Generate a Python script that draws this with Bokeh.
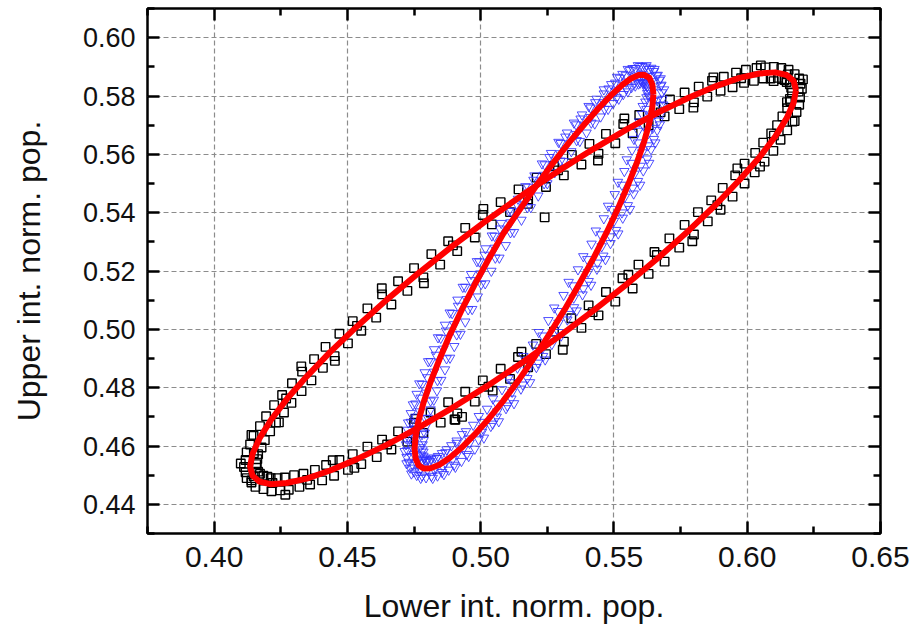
from bokeh.plotting import figure
from bokeh.models import FixedTicker, LinearAxis, NumeralTickFormatter, Range1d
from bokeh.embed import file_html
from bokeh.resources import INLINE

# ---------------- data ----------------
x_major = [0.40, 0.45, 0.50, 0.55, 0.60, 0.65]
x_minor = [0.375, 0.425, 0.475, 0.525, 0.575, 0.625]
y_major = [0.44, 0.46, 0.48, 0.50, 0.52, 0.54, 0.56, 0.58, 0.60]
y_minor = [0.43, 0.45, 0.47, 0.49, 0.51, 0.53, 0.55, 0.57, 0.59, 0.61]

x_title = "Lower int. norm. pop."
y_title = "Upper int. norm. pop."

# black open squares (first data set)
black_pts = [
    (0.6205, 0.5825), (0.6168, 0.5812), (0.6198, 0.5795), (0.6160, 0.5790),
    (0.6195, 0.5770), (0.6162, 0.5782), (0.6185, 0.5745), (0.6150, 0.5758),
    (0.6170, 0.5712), (0.6132, 0.5730), (0.6150, 0.5682), (0.6112, 0.5700),
    (0.6125, 0.5650), (0.6090, 0.5672), (0.6098, 0.5612), (0.6060, 0.5640),
    (0.6065, 0.5575), (0.6030, 0.5605), (0.6028, 0.5538), (0.5990, 0.5568),
    (0.5990, 0.5500), (0.5955, 0.5528), (0.5945, 0.5455), (0.5908, 0.5485),
    (0.5900, 0.5410), (0.5865, 0.5442), (0.5852, 0.5370), (0.5815, 0.5402),
    (0.5800, 0.5325), (0.5765, 0.5358), (0.5745, 0.5280), (0.5708, 0.5312),
    (0.5690, 0.5232), (0.5652, 0.5265), (0.5630, 0.5190), (0.5592, 0.5222),
    (0.5570, 0.5140), (0.5532, 0.5175), (0.5505, 0.5095), (0.5470, 0.5128),
    (0.5442, 0.5048), (0.5405, 0.5082), (0.5378, 0.5005), (0.5340, 0.5038),
    (0.5312, 0.4958), (0.5275, 0.4992), (0.5245, 0.4915), (0.5208, 0.4950),
    (0.5178, 0.4870), (0.5140, 0.4905), (0.5110, 0.4830), (0.5075, 0.4865),
    (0.5045, 0.4790), (0.5008, 0.4825), (0.4978, 0.4752), (0.4942, 0.4786),
    (0.4912, 0.4712), (0.4878, 0.4750), (0.4850, 0.4680), (0.4812, 0.4715),
    (0.4930, 0.4700), (0.4905, 0.4690),
    (0.4785, 0.4645), (0.4750, 0.4680), (0.4725, 0.4615), (0.4690, 0.4650),
    (0.4665, 0.4588), (0.4630, 0.4622), (0.4610, 0.4562), (0.4575, 0.4598),
    (0.4552, 0.4538), (0.4520, 0.4572), (0.4502, 0.4518), (0.4470, 0.4552),
    (0.4450, 0.4498), (0.4420, 0.4535), (0.4405, 0.4482), (0.4378, 0.4518),
    (0.4360, 0.4468), (0.4335, 0.4505), (0.4320, 0.4460), (0.4300, 0.4500),
    (0.4280, 0.4450), (0.4265, 0.4492), (0.4248, 0.4448), (0.4238, 0.4490),
    (0.4215, 0.4445), (0.4212, 0.4490), (0.4185, 0.4452), (0.4200, 0.4495),
    (0.4155, 0.4460), (0.4185, 0.4498), (0.4140, 0.4475), (0.4172, 0.4505),
    (0.4122, 0.4490), (0.4165, 0.4512), (0.4118, 0.4510), (0.4160, 0.4525),
    (0.4112, 0.4528), (0.4158, 0.4538), (0.4118, 0.4552), (0.4162, 0.4555),
    (0.4122, 0.4578), (0.4165, 0.4572), (0.4135, 0.4605), (0.4178, 0.4595),
    (0.4148, 0.4635), (0.4190, 0.4620), (0.4172, 0.4668), (0.4210, 0.4650),
    (0.4195, 0.4702), (0.4232, 0.4680), (0.4225, 0.4740), (0.4262, 0.4715),
    (0.4255, 0.4775), (0.4290, 0.4748), (0.4292, 0.4815), (0.4328, 0.4788),
    (0.4330, 0.4855), (0.4365, 0.4825), (0.4375, 0.4898), (0.4408, 0.4868),
    (0.4418, 0.4940), (0.4452, 0.4908), (0.4470, 0.4985), (0.4502, 0.4952),
    (0.4520, 0.5028), (0.4552, 0.4995), (0.4575, 0.5072), (0.4608, 0.5040),
    (0.4630, 0.5120), (0.4665, 0.5085), (0.4690, 0.5165), (0.4725, 0.5132),
    (0.4750, 0.5210), (0.4785, 0.5178), (0.4815, 0.5258), (0.4848, 0.5222),
    (0.4878, 0.5302), (0.4912, 0.5268), (0.4942, 0.5348), (0.4978, 0.5315),
    (0.5008, 0.5392), (0.5042, 0.5360), (0.5075, 0.5436), (0.5110, 0.5402),
    (0.5142, 0.5480), (0.5178, 0.5445), (0.5210, 0.5520), (0.5245, 0.5488),
    (0.5240, 0.5384),
    (0.5275, 0.5560), (0.5312, 0.5528), (0.5342, 0.5598), (0.5378, 0.5565),
    (0.5408, 0.5636), (0.5442, 0.5602), (0.5470, 0.5670), (0.5505, 0.5638),
    (0.5535, 0.5704), (0.5570, 0.5672), (0.5595, 0.5735), (0.5630, 0.5700),
    (0.5655, 0.5762), (0.5690, 0.5730), (0.5710, 0.5788), (0.5745, 0.5755),
    (0.5765, 0.5812), (0.5800, 0.5778), (0.5818, 0.5832), (0.5850, 0.5798),
    (0.5868, 0.5852), (0.5900, 0.5818), (0.5912, 0.5866), (0.5945, 0.5830),
    (0.5958, 0.5880), (0.5988, 0.5845), (0.5995, 0.5890), (0.6025, 0.5852),
    (0.6035, 0.5896), (0.6060, 0.5860), (0.6068, 0.5898), (0.6088, 0.5860),
    (0.6100, 0.5900), (0.6115, 0.5862), (0.6128, 0.5896), (0.6130, 0.5858),
    (0.6155, 0.5890), (0.6140, 0.5855), (0.6178, 0.5875), (0.6148, 0.5848),
    (0.6195, 0.5860), (0.6160, 0.5840), (0.6200, 0.5842), (0.6165, 0.5828),
    (0.6193, 0.5815), (0.6149, 0.5779), (0.6178, 0.5714), (0.6100, 0.5664),
    (0.6048, 0.5558), (0.5963, 0.5552), (0.5888, 0.5426), (0.5794, 0.5302),
    (0.5661, 0.5255), (0.5554, 0.5187), (0.5420, 0.5059), (0.5308, 0.4930),
    (0.5153, 0.4923), (0.5029, 0.4803), (0.4902, 0.4691), (0.4755, 0.4693),
    (0.4649, 0.4605), (0.4526, 0.4525), (0.4445, 0.4551), (0.4349, 0.4484),
    (0.4267, 0.4433), (0.4219, 0.4473), (0.4140, 0.4482), (0.4148, 0.4496),
    (0.4100, 0.4540), (0.4149, 0.4575), (0.4140, 0.4638), (0.4243, 0.4681),
    (0.4270, 0.4763), (0.4327, 0.4873), (0.4453, 0.4892), (0.4536, 0.5012),
    (0.4629, 0.5141), (0.4787, 0.5158), (0.4896, 0.5288), (0.5010, 0.5413),
    (0.5177, 0.5430), (0.5290, 0.5545), (0.5440, 0.5579), (0.5539, 0.5723),
    (0.5675, 0.5744), (0.5798, 0.5760), (0.5873, 0.5864), (0.5977, 0.5861),
    (0.6051, 0.5905), (0.6099, 0.5851), (0.6152, 0.5874), (0.6209, 0.5857),
]

# blue open down-triangles (second data set)
blue_pts = [
    (0.5680, 0.5812), (0.5630, 0.5800), (0.5662, 0.5785),
    (0.5676, 0.5768), (0.5622, 0.5755), (0.5655, 0.5740),
    (0.5668, 0.5715), (0.5610, 0.5700), (0.5645, 0.5690),
    (0.5650, 0.5652), (0.5590, 0.5640), (0.5628, 0.5630),
    (0.5625, 0.5585), (0.5565, 0.5570), (0.5600, 0.5560),
    (0.5590, 0.5508), (0.5530, 0.5495), (0.5570, 0.5485),
    (0.5552, 0.5425), (0.5492, 0.5412), (0.5530, 0.5400),
    (0.5508, 0.5340), (0.5450, 0.5325), (0.5488, 0.5318),
    (0.5460, 0.5252), (0.5400, 0.5240), (0.5438, 0.5228),
    (0.5405, 0.5165), (0.5345, 0.5150), (0.5385, 0.5140),
    (0.5350, 0.5075), (0.5290, 0.5062), (0.5330, 0.5052),
    (0.5292, 0.4990), (0.5232, 0.4978), (0.5272, 0.4968),
    (0.5234, 0.4908), (0.5175, 0.4895), (0.5215, 0.4885),
    (0.5175, 0.4832), (0.5118, 0.4818), (0.5158, 0.4810),
    (0.5115, 0.4762), (0.5060, 0.4745), (0.5100, 0.4738),
    (0.5060, 0.4700), (0.5005, 0.4682), (0.5045, 0.4676),
    (0.5005, 0.4648), (0.4955, 0.4625), (0.4992, 0.4622),
    (0.4948, 0.4572), (0.4910, 0.4610), (0.4935, 0.4590),
    (0.4900, 0.4535), (0.4868, 0.4578), (0.4895, 0.4555),
    (0.4855, 0.4510), (0.4835, 0.4558), (0.4858, 0.4530),
    (0.4815, 0.4497), (0.4808, 0.4548), (0.4825, 0.4520),
    (0.4780, 0.4498), (0.4795, 0.4545), (0.4770, 0.4515),
    (0.4750, 0.4512), (0.4782, 0.4552), (0.4745, 0.4535),
    (0.4730, 0.4545), (0.4775, 0.4570), (0.4740, 0.4565),
    (0.4725, 0.4585), (0.4772, 0.4595), (0.4740, 0.4600),
    (0.4728, 0.4630), (0.4780, 0.4640), (0.4745, 0.4645),
    (0.4738, 0.4682), (0.4792, 0.4695), (0.4755, 0.4700),
    (0.4755, 0.4745), (0.4812, 0.4755), (0.4775, 0.4765),
    (0.4780, 0.4812), (0.4838, 0.4825), (0.4800, 0.4835),
    (0.4812, 0.4890), (0.4872, 0.4900), (0.4832, 0.4912),
    (0.4850, 0.4970), (0.4910, 0.4982), (0.4870, 0.4995),
    (0.4893, 0.5055), (0.4953, 0.5068), (0.4915, 0.5080),
    (0.4942, 0.5145), (0.5002, 0.5155), (0.4962, 0.5168),
    (0.4995, 0.5232), (0.5055, 0.5245), (0.5015, 0.5255),
    (0.5052, 0.5320), (0.5112, 0.5332), (0.5072, 0.5345),
    (0.5115, 0.5405), (0.5175, 0.5418), (0.5135, 0.5430),
    (0.5178, 0.5488), (0.5238, 0.5500), (0.5198, 0.5512),
    (0.5240, 0.5565), (0.5300, 0.5578), (0.5258, 0.5590),
    (0.5300, 0.5638), (0.5360, 0.5648), (0.5318, 0.5660),
    (0.5358, 0.5702), (0.5415, 0.5708), (0.5375, 0.5722),
    (0.5412, 0.5760), (0.5465, 0.5755), (0.5430, 0.5778),
    (0.5462, 0.5808), (0.5510, 0.5795), (0.5480, 0.5825),
    (0.5505, 0.5845), (0.5548, 0.5825), (0.5522, 0.5862),
    (0.5545, 0.5872), (0.5578, 0.5845), (0.5560, 0.5888),
    (0.5580, 0.5895), (0.5600, 0.5855), (0.5598, 0.5902),
    (0.5618, 0.5900), (0.5615, 0.5855), (0.5632, 0.5892),
    (0.5650, 0.5885), (0.5625, 0.5848), (0.5660, 0.5870),
    (0.5670, 0.5855), (0.5630, 0.5828), (0.5675, 0.5835),
    (0.5595, 0.5712), (0.5672, 0.5702), (0.5575, 0.5652), (0.5655, 0.5640),
    (0.5548, 0.5582), (0.5632, 0.5570), (0.5515, 0.5505), (0.5598, 0.5495),
    (0.5478, 0.5423), (0.5560, 0.5412), (0.5432, 0.5338), (0.5516, 0.5328),
    (0.5385, 0.5250), (0.5468, 0.5240), (0.5330, 0.5162), (0.5414, 0.5152),
    (0.5276, 0.5074), (0.5360, 0.5064), (0.5218, 0.4990), (0.5302, 0.4978),
    (0.5160, 0.4908), (0.5242, 0.4896), (0.5104, 0.4832), (0.5185, 0.4818),
    (0.5046, 0.4762), (0.5125, 0.4746), (0.4993, 0.4702), (0.5068, 0.4684),
    (0.4945, 0.4650), (0.5012, 0.4628), (0.4910, 0.4618), (0.4955, 0.4565),
    (0.4872, 0.4588), (0.4905, 0.4528), (0.4840, 0.4565), (0.4862, 0.4503),
    (0.4815, 0.4555), (0.4820, 0.4490), (0.4795, 0.4552), (0.4775, 0.4490),
    (0.4790, 0.4560), (0.4740, 0.4505), (0.4785, 0.4580), (0.4722, 0.4540),
    (0.4782, 0.4605), (0.4715, 0.4582), (0.4790, 0.4645), (0.4718, 0.4628),
    (0.4802, 0.4696), (0.4728, 0.4680), (0.4824, 0.4758), (0.4746, 0.4742),
    (0.4852, 0.4826), (0.4770, 0.4814), (0.4885, 0.4902), (0.4803, 0.4890),
    (0.4924, 0.4984), (0.4840, 0.4972), (0.4968, 0.5069), (0.4884, 0.5057),
    (0.5017, 0.5157), (0.4933, 0.5145), (0.5070, 0.5245), (0.4986, 0.5233),
    (0.5125, 0.5333), (0.5042, 0.5321), (0.5188, 0.5418), (0.5106, 0.5406),
    (0.5250, 0.5500), (0.5168, 0.5490), (0.5312, 0.5576), (0.5230, 0.5568),
    (0.5372, 0.5645), (0.5292, 0.5642), (0.5428, 0.5705), (0.5350, 0.5708),
    (0.5478, 0.5755), (0.5405, 0.5765), (0.5518, 0.5790), (0.5462, 0.5822),
    (0.5552, 0.5815), (0.5512, 0.5865), (0.5580, 0.5835), (0.5552, 0.5892),
    (0.5598, 0.5845), (0.5590, 0.5905), (0.5610, 0.5845), (0.5622, 0.5905),
    (0.5620, 0.5838), (0.5652, 0.5892), (0.5625, 0.5818), (0.5675, 0.5860),
    (0.5622, 0.5795), (0.5688, 0.5822), (0.5608, 0.5765), (0.5685, 0.5770),
    (0.5606, 0.5738), (0.5644, 0.5730), (0.5677, 0.5740),
    (0.5591, 0.5680), (0.5629, 0.5672), (0.5662, 0.5683),
    (0.5568, 0.5615), (0.5606, 0.5606), (0.5639, 0.5617),
    (0.5539, 0.5542), (0.5577, 0.5533), (0.5610, 0.5544),
    (0.5503, 0.5463), (0.5541, 0.5454), (0.5574, 0.5465),
    (0.5462, 0.5380), (0.5500, 0.5371), (0.5533, 0.5382),
    (0.5416, 0.5293), (0.5454, 0.5284), (0.5487, 0.5295),
    (0.5365, 0.5205), (0.5403, 0.5196), (0.5436, 0.5207),
    (0.5311, 0.5117), (0.5349, 0.5108), (0.5382, 0.5119),
    (0.5254, 0.5031), (0.5292, 0.5022), (0.5325, 0.5033),
    (0.5196, 0.4947), (0.5234, 0.4938), (0.5267, 0.4949),
    (0.5138, 0.4868), (0.5176, 0.4859), (0.5209, 0.4870),
    (0.5080, 0.4794), (0.5118, 0.4785), (0.5151, 0.4796),
    (0.5024, 0.4727), (0.5062, 0.4718), (0.5095, 0.4729),
    (0.4972, 0.4672), (0.5008, 0.4660), (0.5038, 0.4668),
    (0.4930, 0.4640), (0.4958, 0.4610), (0.4978, 0.4590),
    (0.4890, 0.4602), (0.4910, 0.4570), (0.4928, 0.4548),
    (0.4855, 0.4575), (0.4868, 0.4542), (0.4880, 0.4518),
    (0.4826, 0.4560), (0.4832, 0.4524), (0.4838, 0.4498),
    (0.4802, 0.4552), (0.4800, 0.4518), (0.4795, 0.4492),
    (0.4788, 0.4556), (0.4775, 0.4522), (0.4760, 0.4500),
    (0.4785, 0.4566), (0.4758, 0.4542), (0.4735, 0.4525),
    (0.4782, 0.4588), (0.4750, 0.4572), (0.4722, 0.4562),
    (0.4786, 0.4620), (0.4750, 0.4610), (0.4720, 0.4605),
    (0.4795, 0.4668), (0.4758, 0.4660), (0.4726, 0.4655),
    (0.4812, 0.4725), (0.4772, 0.4718), (0.4738, 0.4712),
    (0.4836, 0.4790), (0.4795, 0.4782), (0.4760, 0.4778),
    (0.4866, 0.4862), (0.4825, 0.4854), (0.4790, 0.4852),
    (0.4901, 0.4942), (0.4860, 0.4933), (0.4825, 0.4931),
    (0.4942, 0.5026), (0.4901, 0.5017), (0.4866, 0.5015),
    (0.4989, 0.5112), (0.4948, 0.5103), (0.4913, 0.5101),
    (0.5040, 0.5200), (0.4999, 0.5191), (0.4964, 0.5189),
    (0.5094, 0.5288), (0.5053, 0.5279), (0.5018, 0.5277),
    (0.5153, 0.5375), (0.5112, 0.5366), (0.5077, 0.5364),
    (0.5216, 0.5458), (0.5175, 0.5449), (0.5140, 0.5447),
    (0.5278, 0.5538), (0.5237, 0.5529), (0.5202, 0.5527),
    (0.5340, 0.5610), (0.5299, 0.5603), (0.5264, 0.5604),
    (0.5397, 0.5674), (0.5358, 0.5669), (0.5324, 0.5674),
    (0.5450, 0.5729), (0.5412, 0.5727), (0.5380, 0.5736),
    (0.5497, 0.5775), (0.5463, 0.5778), (0.5435, 0.5790),
    (0.5535, 0.5806), (0.5508, 0.5818), (0.5490, 0.5840),
    (0.5566, 0.5830), (0.5546, 0.5848), (0.5532, 0.5875),
    (0.5592, 0.5842), (0.5578, 0.5866), (0.5570, 0.5895),
    (0.5606, 0.5848), (0.5604, 0.5874), (0.5606, 0.5902),
    (0.5615, 0.5845), (0.5625, 0.5868), (0.5640, 0.5896),
    (0.5624, 0.5832), (0.5641, 0.5850), (0.5664, 0.5872),
    (0.5625, 0.5810), (0.5648, 0.5822), (0.5678, 0.5838),
    (0.5618, 0.5780), (0.5648, 0.5782), (0.5682, 0.5790),
]

# red fitted ellipses (vertices)
fit_black_x = [0.6183, 0.6174, 0.6148, 0.6105, 0.6046, 0.5971, 0.5883, 0.5782, 0.5671, 0.5551,
               0.5424, 0.5293, 0.5159, 0.5025, 0.4894, 0.4767, 0.4647, 0.4536, 0.4435, 0.4347,
               0.4272, 0.4213, 0.4170, 0.4144, 0.4135, 0.4144, 0.4170, 0.4213, 0.4272, 0.4347,
               0.4435, 0.4536, 0.4647, 0.4767, 0.4894, 0.5025, 0.5159, 0.5293, 0.5424, 0.5551,
               0.5671, 0.5782, 0.5883, 0.5971, 0.6046, 0.6105, 0.6148, 0.6174, 0.6183]
fit_black_y = [0.5820, 0.5777, 0.5724, 0.5661, 0.5590, 0.5512, 0.5428, 0.5340, 0.5249, 0.5157,
               0.5065, 0.4975, 0.4888, 0.4806, 0.4731, 0.4663, 0.4604, 0.4555, 0.4516, 0.4488,
               0.4473, 0.4469, 0.4478, 0.4498, 0.4530, 0.4573, 0.4626, 0.4689, 0.4760, 0.4838,
               0.4922, 0.5010, 0.5101, 0.5193, 0.5285, 0.5375, 0.5462, 0.5544, 0.5619, 0.5687,
               0.5746, 0.5795, 0.5834, 0.5862, 0.5877, 0.5881, 0.5872, 0.5852, 0.5820]
fit_blue_x = [0.5648, 0.5644, 0.5633, 0.5614, 0.5588, 0.5555, 0.5517, 0.5473, 0.5424, 0.5371,
              0.5316, 0.5258, 0.5200, 0.5142, 0.5084, 0.5029, 0.4976, 0.4927, 0.4883, 0.4845,
              0.4812, 0.4786, 0.4767, 0.4756, 0.4752, 0.4756, 0.4767, 0.4786, 0.4812, 0.4845,
              0.4883, 0.4927, 0.4976, 0.5029, 0.5084, 0.5148, 0.5210, 0.5272, 0.5333, 0.5390,
              0.5442, 0.5490, 0.5530, 0.5564, 0.5593, 0.5612, 0.5633, 0.5644, 0.5648]
fit_blue_y = [0.5806, 0.5762, 0.5708, 0.5646, 0.5576, 0.5500, 0.5418, 0.5333, 0.5245, 0.5157,
              0.5069, 0.4984, 0.4902, 0.4825, 0.4754, 0.4692, 0.4638, 0.4593, 0.4559, 0.4536,
              0.4524, 0.4523, 0.4534, 0.4557, 0.4590, 0.4634, 0.4688, 0.4750, 0.4820, 0.4896,
              0.4978, 0.5063, 0.5151, 0.5239, 0.5327, 0.5412, 0.5494, 0.5571, 0.5642, 0.5704,
              0.5758, 0.5803, 0.5837, 0.5860, 0.5872, 0.5873, 0.5862, 0.5839, 0.5806]

black_x = [a for a, b in black_pts]
black_y = [b for a, b in black_pts]
blue_x = [a for a, b in blue_pts]
blue_y = [b for a, b in blue_pts]

# ---------------- figure ----------------
FONT = "Liberation Sans"

p = figure(
    frame_width=733, frame_height=525,
    min_border_left=147, min_border_right=36, min_border_top=8, min_border_bottom=101,
    x_range=Range1d(0.375, 0.65), y_range=Range1d(0.43, 0.61),
    output_backend="svg", toolbar_location=None,
    background_fill_color="white", border_fill_color="white",
)
p.outline_line_color = "black"
p.outline_line_width = 2.5
p.outline_line_alpha = 1.0

xt = FixedTicker(ticks=x_major, minor_ticks=x_minor)
yt = FixedTicker(ticks=y_major, minor_ticks=y_minor)

def style_axis(ax, ticker, show_labels):
    ax.ticker = ticker
    ax.formatter = NumeralTickFormatter(format="0.00")
    ax.axis_line_color = None
    ax.major_tick_in = 12
    ax.major_tick_out = 0
    ax.minor_tick_in = 7
    ax.minor_tick_out = 0
    ax.major_tick_line_width = 2.5
    ax.minor_tick_line_width = 2.5
    ax.major_tick_line_color = "black"
    ax.minor_tick_line_color = "black"
    if show_labels:
        ax.major_label_text_font = FONT
        ax.major_label_text_color = "#111111"
    else:
        ax.major_label_text_font_size = "0px"
        ax.major_label_standoff = 0
        ax.major_label_text_alpha = 0

style_axis(p.xaxis[0], xt, True)
style_axis(p.yaxis[0], yt, True)
p.xaxis[0].major_label_text_font_size = "30px"
p.xaxis[0].major_label_standoff = 13
p.yaxis[0].major_label_text_font_size = "27px"
p.yaxis[0].major_label_standoff = 12

p.xaxis[0].axis_label = x_title
p.yaxis[0].axis_label = y_title
for ax in (p.xaxis[0], p.yaxis[0]):
    ax.axis_label_text_font = FONT
    ax.axis_label_text_font_style = "normal"
    ax.axis_label_text_font_size = "32px"
    ax.axis_label_text_color = "#111111"
p.xaxis[0].axis_label_standoff = 18
p.yaxis[0].axis_label_standoff = 33

top_ax = LinearAxis()
right_ax = LinearAxis()
style_axis(top_ax, xt, False)
style_axis(right_ax, yt, False)
p.add_layout(top_ax, "above")
p.add_layout(right_ax, "right")

for g, t in ((p.xgrid[0], xt), (p.ygrid[0], yt)):
    g.ticker = t
    g.grid_line_color = "#8c8c8c"
    g.grid_line_dash = "5 3"
    g.grid_line_width = 1.2

p.scatter(black_x, black_y, marker="square", size=8.5, fill_color=None,
          line_color="black", line_width=1.4)
p.scatter(blue_x, blue_y, marker="inverted_triangle", size=9.5, fill_color=None,
          line_color="#3030ff", line_width=1.0, line_alpha=0.85)

p.line(fit_black_x, fit_black_y, line_color="#ff0000", line_width=6, line_join="round")
p.line(fit_blue_x, fit_blue_y, line_color="#ff0000", line_width=6, line_join="round")

open("out.html", "w").write(file_html(p, INLINE))
